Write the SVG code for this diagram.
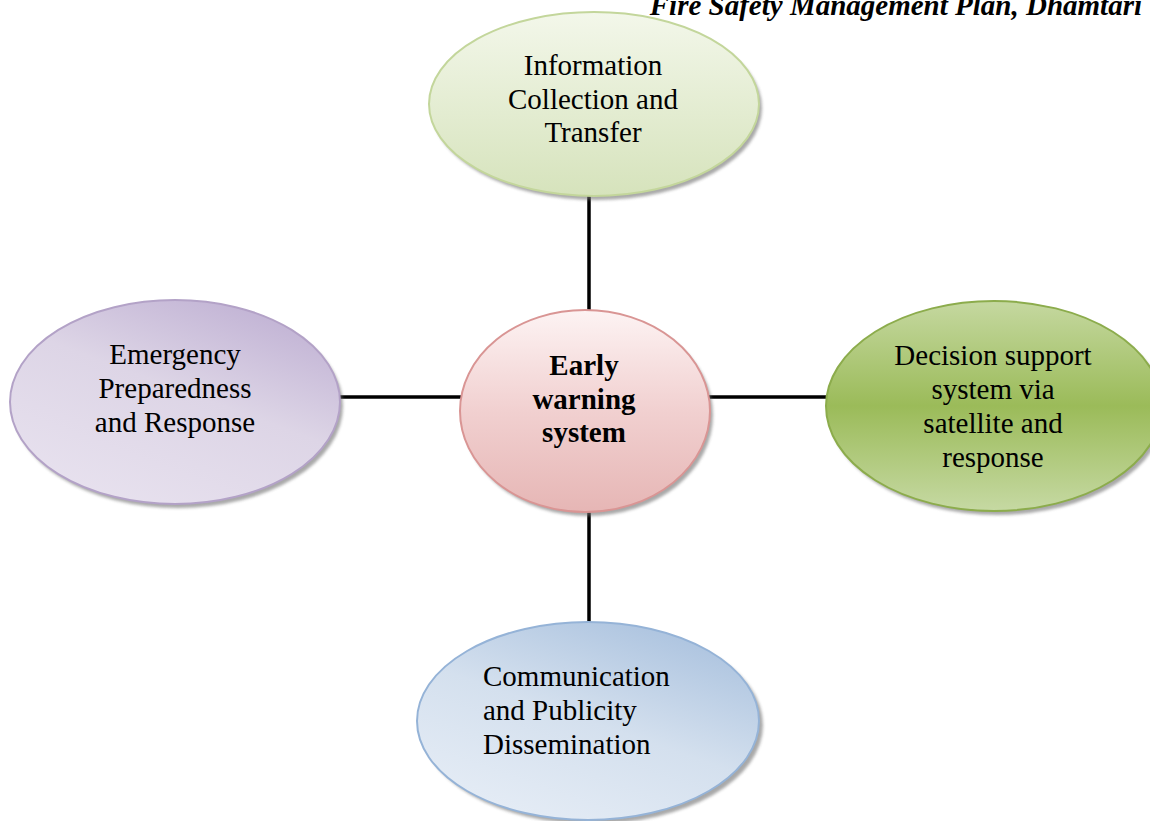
<svg xmlns="http://www.w3.org/2000/svg" width="1150" height="821" viewBox="0 0 1150 821">
<style>
.t{font-family:"Liberation Serif","Times New Roman",serif;font-size:29px;fill:#000;text-anchor:middle}
.b{font-weight:bold}
.title{font-family:"Liberation Serif","Times New Roman",serif;font-size:29px;font-weight:bold;font-style:italic;text-anchor:end}
.conn line{stroke:#000;stroke-width:3.5}
.sh{fill:#6f6f6f;opacity:0.6;filter:url(#blur)}
</style>
<defs>
<filter id="blur" x="-10%" y="-10%" width="120%" height="120%"><feGaussianBlur stdDeviation="1.5"/></filter>
<linearGradient id="gTop" x1="0" y1="0" x2="0" y2="1">
<stop offset="0" stop-color="#f3f7ea"/><stop offset="1" stop-color="#d6e3bc"/>
</linearGradient>
<linearGradient id="gLeft" x1="0.8" y1="0" x2="0.2" y2="1">
<stop offset="0" stop-color="#bfb0d3"/><stop offset="0.45" stop-color="#ddd5e6"/><stop offset="1" stop-color="#e8e2ef"/>
</linearGradient>
<linearGradient id="gCen" x1="0" y1="0" x2="0" y2="1">
<stop offset="0" stop-color="#fdf3f3"/><stop offset="0.5" stop-color="#f1d0d0"/><stop offset="1" stop-color="#e6b6b5"/>
</linearGradient>
<linearGradient id="gRight" x1="0" y1="0" x2="0" y2="1">
<stop offset="0" stop-color="#c5d8a0"/><stop offset="0.5" stop-color="#9bbb59"/><stop offset="1" stop-color="#c6d9a3"/>
</linearGradient>
<linearGradient id="gBot" x1="0.8" y1="0" x2="0.2" y2="1">
<stop offset="0" stop-color="#a9c1de"/><stop offset="0.5" stop-color="#d4e0ee"/><stop offset="1" stop-color="#e6edf6"/>
</linearGradient>
</defs>
<rect width="1150" height="821" fill="#fff"/>
<text class="title" x="1142" y="15">Fire Safety Management Plan, Dhamtari</text>
<g id="connectors" class="conn">
<line x1="589" y1="195" x2="589" y2="312"/>
<line x1="589" y1="510" x2="589" y2="624"/>
<line x1="338" y1="397" x2="461" y2="397"/>
<line x1="708" y1="397" x2="829" y2="397"/>
</g>
<g id="node-top">
<ellipse class="sh" cx="597" cy="108" rx="165" ry="92"/>
<ellipse cx="594" cy="104" rx="165" ry="92" fill="url(#gTop)" stroke="#c3d69b" stroke-width="2"/>
<text class="t" x="593" y="75">Information</text>
<text class="t" x="593" y="109">Collection and</text>
<text class="t" x="593" y="142">Transfer</text>
</g>
<g id="node-left">
<ellipse class="sh" cx="178" cy="406" rx="165" ry="102"/>
<ellipse cx="175" cy="402" rx="165" ry="102" fill="url(#gLeft)" stroke="#b3a2c7" stroke-width="2"/>
<text class="t" x="175" y="364">Emergency</text>
<text class="t" x="175" y="398">Preparedness</text>
<text class="t" x="175" y="432">and Response</text>
</g>
<g id="node-center">
<ellipse class="sh" cx="588" cy="415" rx="125" ry="101"/>
<ellipse cx="585" cy="411" rx="125" ry="101" fill="url(#gCen)" stroke="#d99594" stroke-width="2"/>
<text class="t b" x="584" y="375">Early</text>
<text class="t b" x="584" y="409">warning</text>
<text class="t b" x="584" y="442">system</text>
</g>
<g id="node-right">
<ellipse class="sh" cx="997" cy="410" rx="168" ry="105"/>
<ellipse cx="994" cy="406" rx="168" ry="105" fill="url(#gRight)" stroke="#8cac4c" stroke-width="2"/>
<text class="t" x="993" y="365">Decision support</text>
<text class="t" x="993" y="399">system via</text>
<text class="t" x="993" y="433">satellite and</text>
<text class="t" x="993" y="467">response</text>
</g>
<g id="node-bottom">
<ellipse class="sh" cx="592" cy="725" rx="171" ry="99"/>
<ellipse cx="588" cy="721" rx="171" ry="99" fill="url(#gBot)" stroke="#95b3d7" stroke-width="2"/>
<text class="t" x="483" y="686" style="text-anchor:start">Communication</text>
<text class="t" x="483" y="720" style="text-anchor:start">and Publicity</text>
<text class="t" x="483" y="754" style="text-anchor:start">Dissemination</text>
</g>
</svg>
